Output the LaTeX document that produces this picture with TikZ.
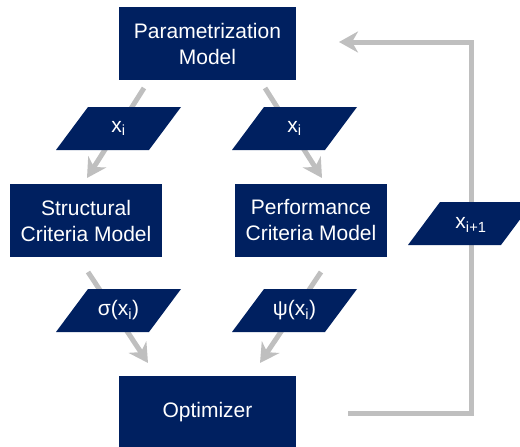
\documentclass[tikz,border=0pt]{standalone}
\usepackage{fontspec}
\setmainfont{Liberation Sans}
\usetikzlibrary{arrows.meta}
\definecolor{navy}{HTML}{002060}
\definecolor{arrgray}{HTML}{BFBFBF}
\tikzset{
  box/.style={fill=navy, text=white, minimum width=#1, minimum height=73pt, inner sep=0pt, align=center,
    font=\fontsize{21}{26}\selectfont},
  box/.default=177pt,
  lbl/.style={text=white, inner sep=0pt, font=\fontsize{21}{26}\selectfont},
  arr/.style={draw=arrgray, line width=5pt, line join=miter,
    -{Stealth[length=19pt, width=21pt, inset=6pt]}},
}
\newcommand{\parashape}[2]{%
  \fill[navy] (#1-62.5,#2+21.5) -- (#1+30.5,#2+21.5) -- (#1+62.5,#2-21.5) -- (#1-30.5,#2-21.5) -- cycle;}
\begin{document}
\begin{tikzpicture}[x=1pt, y=-1pt]
\useasboundingbox (0,0) rectangle (520,447);
% boxes
\node[box] (par) at (207.5,43.5) {Parametrization\\Model};
\node[box=152pt] (str) at (86,220.5) {Structural\\Criteria Model};
\node[box=152pt] (per) at (311,220.5) {Performance\\Criteria Model};
\node[box] (opt) at (207.5,412.5) {Optimizer};
% connector end points
\coordinate (a1s) at (144,88);  \coordinate (a1e) at (87,178);
\coordinate (a2s) at (265,88);  \coordinate (a2e) at (322,178);
\coordinate (a3s) at (88,272);  \coordinate (a3e) at (148,363);
\coordinate (a4s) at (321,272); \coordinate (a4e) at (260,363);
\coordinate (fbs) at (348,413); \coordinate (fbr) at (471,413);
\coordinate (fbt) at (471,42);  \coordinate (fbe) at (339,42);
% connectors
\draw[arr] (a1s) -- (a1e);
\draw[arr] (a2s) -- (a2e);
\draw[arr] (a3s) -- (a3e);
\draw[arr] (a4s) -- (a4e);
\draw[arr] (fbs) -- (fbr) -- (fbt) -- (fbe);
% data parallelograms
\parashape{118.5}{128.5}
\parashape{294.5}{128.5}
\parashape{118.5}{310.5}
\parashape{294.5}{310.5}
\parashape{470.5}{223.5}
\node[lbl] (x1) at (118.5,128.5) {x\textsubscript{i}};
\node[lbl] (x2) at (294.5,128.5) {x\textsubscript{i}};
\node[lbl] (sg) at (118.5,310.5) {σ(x\textsubscript{i})};
\node[lbl] (ps) at (294.5,310.5) {ψ(x\textsubscript{i})};
\node[lbl] (xn) at (471,225) {x\textsubscript{i+1}};
\end{tikzpicture}
\end{document}
